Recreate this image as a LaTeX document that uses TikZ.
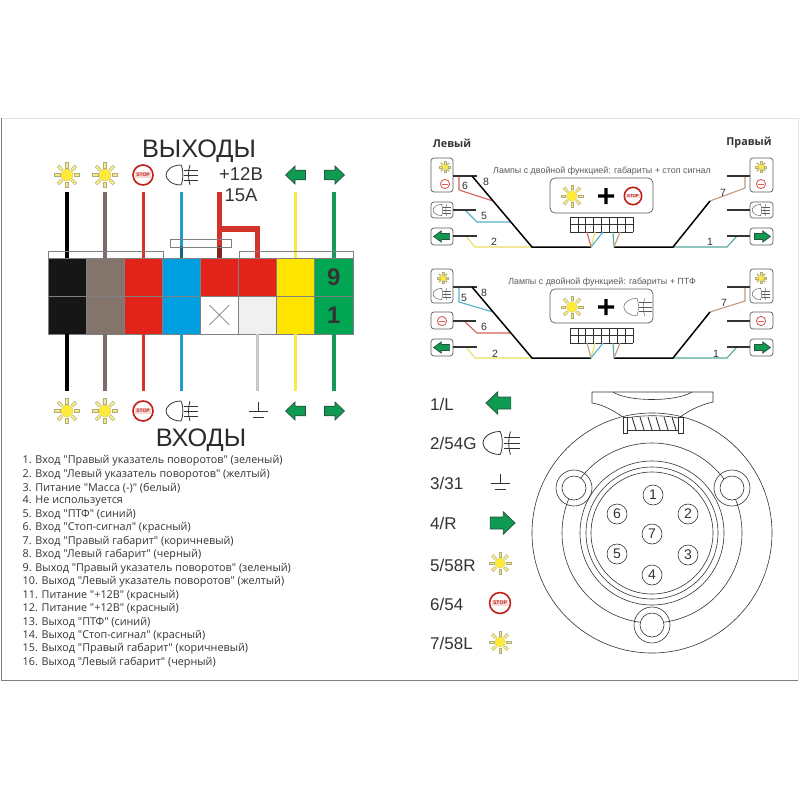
\documentclass[tikz,border=0pt]{standalone}
\usepackage{fontspec}
\setmainfont{Liberation Sans}
\newfontfamily\listfont{Open Sans}
\usetikzlibrary{calc}
\definecolor{cblack}{HTML}{161616}
\definecolor{cbrown}{HTML}{84756C}
\definecolor{cred}{HTML}{E2231A}
\definecolor{cblue}{HTML}{009FDF}
\definecolor{cyel}{HTML}{FFE400}
\definecolor{cgreen}{HTML}{00A651}
\definecolor{clight}{HTML}{F0F0F0}
\definecolor{wbrown}{HTML}{7A6E68}
\definecolor{wred}{HTML}{D2332A}
\definecolor{wblue}{HTML}{1E9CCB}
\definecolor{wyel}{HTML}{F7E94A}
\definecolor{wgreen}{HTML}{159A5A}
\definecolor{wgray}{HTML}{C8C8C8}
\definecolor{ink}{HTML}{333333}
\definecolor{agreen}{HTML}{0E9A50}
\definecolor{sunray}{HTML}{F4EA8C}
\definecolor{sunline}{HTML}{B0AC78}
\definecolor{sunfill}{HTML}{FFE93A}
\definecolor{tealw}{HTML}{55A898}
\definecolor{tanw}{HTML}{C09A80}
\definecolor{redw}{HTML}{D8605A}
\definecolor{bluew}{HTML}{55B0CC}
\definecolor{yelw}{HTML}{E8E060}
\tikzset{
 x=1pt,y=-1pt,
 cell/.style={draw=gray,line width=.7pt,minimum width=38.1pt,minimum height=38pt,inner sep=0pt,outer sep=0pt},
 wire/.style={line width=3.4pt},
 lampbox/.style={draw=ink!80,line width=.7pt,rounded corners=3pt,fill=white},
 lead/.style={draw=ink,line width=1.1pt},
 trunk/.style={draw=black,line width=1.5pt},
 thin wire/.style={line width=1.1pt},
 gridline/.style={draw=ink,line width=.6pt},
 numlab/.style={font=\fontsize{10.5}{12}\selectfont,text=ink,inner sep=0pt},
 pin/.style={circle,draw=ink,line width=.6pt,minimum size=20pt,inner sep=0pt,font=\fontsize{14}{16}\selectfont,text=ink},
 pinlab/.style={anchor=west,font=\fontsize{17}{20}\selectfont,text=ink,inner sep=0pt},
 listitem/.style={anchor=west,font=\listfont\fontsize{10.8}{13}\selectfont,text=ink,inner sep=0pt},
 headline/.style={inner sep=0pt,text=ink!85!black,font=\fontsize{25.3}{28}\selectfont},
 subline/.style={inner sep=0pt,text=ink,font=\fontsize{18.5}{20}\selectfont},
 schemetitle/.style={inner sep=0pt,text=ink!80,font=\fontsize{8.9}{10}\selectfont},
 sidename/.style={inner sep=0pt,text=ink,font=\listfont\bfseries\fontsize{10.8}{12}\selectfont},
 fogline/.style={draw=ink,line width=.8pt},
 finefog/.style={fogline/.style={draw=ink!80,line width=.45pt}},
 pics/sun/.style={code={
   \foreach \a in {0,45,...,315}{
     \draw[draw=sunline,fill=sunray,line width=.3pt,rotate=\a] (8.5,-1.8) rectangle (15,1.8);}
   \fill[sunfill,draw=sunline!60!sunfill,line width=.3pt] (0,0) circle (7.2);
 }},
 pics/stopsign/.style={code={
   \draw[draw=cred!85!black,fill=white,line width=1.6pt] (0,0) circle (8.7);
   \fill[redw!25] (-6.8,-2.4) rectangle (6.8,2.4);
   \node[inner sep=0pt,transform shape,text=cred!85!black,font=\bfseries\fontsize{4.3}{5}\selectfont] at (0,0) {STOP};
 }},
 pics/stopmini/.style={code={
   \draw[draw=redw,fill=white,line width=.9pt] (0,0) circle (4.6);
   \draw[draw=redw,line width=.9pt] (-3,0) -- (3,0);
 }},
 pics/fog/.style={code={
   \draw[fogline] (1,-10) .. controls (-9,-10) and (-14,-4) .. (-14,0) .. controls (-14,4) and (-9,10) .. (1,10) .. controls (3.5,5) and (3.5,-5) .. (1,-10) -- cycle;
   \draw[fogline] (10,-10) .. controls (8,-4) and (8,4) .. (10,10);
   \foreach \v in {-5,0,5}{\draw[fogline] (4,\v) -- (18,\v);}
 }},
 pics/arleft/.style={code={
   \draw[draw=ink!70!agreen,fill=agreen,line width=.7pt,line join=miter] (-10.5,0) -- (-1,-9) -- (-1,-4.8) -- (9.5,-4.8) -- (9.5,4.8) -- (-1,4.8) -- (-1,9) -- cycle;
 }},
 pics/arright/.style={code={
   \draw[draw=ink!70!agreen,fill=agreen,line width=.7pt,line join=miter] (10.5,0) -- (1,-9) -- (1,-4.8) -- (-9.5,-4.8) -- (-9.5,4.8) -- (1,4.8) -- (1,9) -- cycle;
 }},
 pics/groundsym/.style={code={
   \draw[draw=ink,line width=.8pt] (0,-9) -- (0,0) (-9.5,0) -- (9.5,0) (-5.5,6) -- (5.5,6);
 }},
 pics/bigplus/.style={code={
   \fill[black] (-8,-1.6) rectangle (8,1.6) (-1.6,-8) rectangle (1.6,8);
 }},
 pics/pingrid/.style={code={
   \foreach \k in {0,...,8}{\draw[gridline] ({\k*7.875},0) -- ({\k*7.875},15);}
   \foreach \k in {0,1,2}{\draw[gridline] (0,{\k*7.5}) -- (63,{\k*7.5});}
 }},
}
\begin{document}
\begin{tikzpicture}
\useasboundingbox (0,0) rectangle (800,800);
\fill[white] (0,0) rectangle (800,800);
\draw[draw=gray!25,line width=.8pt] (1,118) -- (798,118);
\draw[draw=gray!25,line width=.8pt] (798,118) -- (798,680);
\draw[draw=gray,line width=1pt] (1,118) -- (1,680) -- (798,680);
% --- connector
\foreach \i/\cx/\ct/\cb/\wt/\wb in {
 1/67/cblack/cblack/black/black,
 2/105.1/cbrown/cbrown/wbrown/wbrown,
 3/143.2/cred/cred/wred/wred,
 4/181.3/cblue/cblue/wblue/wblue,
 5/219.4/cred/white/none/none,
 6/257.5/cred/clight/none/wgray,
 7/295.6/cyel/cyel/wyel/wyel,
 8/333.8/cgreen/cgreen/wgreen/wgreen}{
  \node[cell,fill=\ct] (t\i) at (\cx,277) {};
  \node[cell,fill=\cb] (b\i) at (\cx,315) {};
  \draw[wire,draw=\wt] (t\i.north) -- ++(0,-66);
  \draw[wire,draw=\wb] (b\i.south) -- ++(0,57);
}
\draw[draw=wred,line width=5.5pt] (t5.north) -- ++(0,-66);
\draw[draw=wred,line width=5.5pt,line join=miter] (t5.north) ++(0,-29) -- ++(38.1,0) -- (t6.north);
\draw[draw=gray,line width=.8pt] (48,258) -- (48,251) -- (163,251) -- (163,258);
\draw[draw=gray,line width=.8pt] (239,258) -- (239,251) -- (353,251) -- (353,258);
\draw[draw=black,opacity=.35,line width=3.4pt] (t4.north) -- ++(0,-12);
\draw[draw=black,opacity=.35,line width=5.5pt] (t5.north) -- ++(0,-12);
\draw[draw=gray,line width=.8pt] (170,239) rectangle (231,247);
\draw[draw=gray,line width=.6pt] (b5.center) ++(-10,-10) -- ++(20,20) ++(-20,0) -- ++(20,-20);
\node[inner sep=0pt,text=ink,font=\bfseries\fontsize{24}{26}\selectfont] (n9) at (t8) {9};
\node[inner sep=0pt,text=ink,font=\bfseries\fontsize{24}{26}\selectfont] (n1) at (b8) {1};
\node[headline] (outlab) at (199,151) {ВЫХОДЫ};
\node[headline] (inlab) at (201,440) {ВХОДЫ};
\node[subline] (v12) at (241,174) {+12В};
\node[subline] (a15) at (241,195) {15А};
% icons over/under connector
\foreach \yy in {175,411}{
 \pic[scale=.83] at (67,\yy) {sun};
 \pic[scale=.83] at (105,\yy) {sun};
 \pic[scale=1.15] at (143,\yy) {stopsign};
 \pic at (180,\yy) {fog};
 \pic at (296,\yy) {arleft};
 \pic at (334,\yy) {arright};
}
\pic at (258,411) {groundsym};
% --- list
\foreach \n/\t in {
 0/{1. Вход "Правый указатель поворотов" (зеленый)},
 1/{2. Вход "Левый указатель поворотов" (желтый)},
 2/{3. Питание "Масса (-)" (белый)},
 3/{4. Не используется},
 4/{5. Вход "ПТФ" (синий)},
 5/{6. Вход "Стоп-сигнал" (красный)},
 6/{7. Вход "Правый габарит" (коричневый)},
 7/{8. Вход "Левый габарит" (черный)},
 8/{9. Выход "Правый указатель поворотов" (зеленый)},
 9/{10. Выход "Левый указатель поворотов" (желтый)},
 10/{11. Питание "+12В" (красный)},
 11/{12. Питание "+12В" (красный)},
 12/{13. Выход "ПТФ" (синий)},
 13/{14. Выход "Стоп-сигнал" (красный)},
 14/{15. Выход "Правый габарит" (коричневый)},
 15/{16. Выход "Левый габарит" (черный)}}{
 \node[listitem] (li\n) at (22.5,{461+\n*13.43}) {\t};
}
% --- top schematic
\node[sidename] (lv) at (452,143) {Левый};
\node[sidename] (pr) at (749,143) {Правый};
\node[schemetitle] (t1) at (602,171) {Лампы с двойной функцией: габариты + стоп сигнал};
\draw[lampbox] (431,158) rectangle (453,192);
\draw[lampbox] (431,202) rectangle (453,218);
\draw[lampbox] (431,228) rectangle (453,245);
\draw[lampbox] (750,158) rectangle (773,192);
\draw[lampbox] (750,202) rectangle (773,218);
\draw[lampbox] (750,228) rectangle (773,245);
\pic[scale=.37] at (445,167) {sun};
\pic at (445,184) {stopmini};
\pic[scale=.56,finefog] at (441,210) {fog};
\pic[xscale=.8,yscale=.62] at (442,236.5) {arleft};
\pic[scale=.37] at (761,167) {sun};
\pic at (761,184) {stopmini};
\pic[scale=.56,finefog] at (760,210) {fog};
\pic[xscale=.8,yscale=.62] at (762,236.5) {arright};
\draw[lampbox,rounded corners=5pt] (550,178) rectangle (653,213);
\pic[scale=.75] at (572,196) {sun};
\pic at (606,196) {bigplus};
\pic at (633,196) {stopsign};
\pic at (570,217) {pingrid};
% wires top
\draw[thin wire,draw=redw] (459,176) -- (459,190) -- (493,201);
\draw[thin wire,draw=bluew] (465,210) -- (477,222) -- (510,222);
\draw[thin wire,draw=yelw] (466,236) -- (475,247) -- (532,247);
\draw[thin wire,draw=tealw] (737,236) -- (727,247) -- (673,247);
\draw[thin wire,draw=tanw] (745,176) -- (745,188) -- (710,201);
\draw[lead] (453,176) -- (477,176);
\draw[lead] (453,210) -- (476,210);
\draw[lead] (453,236) -- (477,236);
\draw[lead] (750,176) -- (727,176);
\draw[lead] (750,210) -- (727,210);
\draw[lead] (750,236) -- (727,236);
\draw[trunk] (472,176) -- (532,247) -- (591,247);
\draw[trunk] (614,247) -- (673,247) -- (710,201);
\draw[thin wire,draw=redw] (587,232) -- (591,247);
\draw[thin wire,draw=yelw] (595,232) -- (591,247);
\draw[thin wire,draw=bluew] (603,232) -- (591,247);
\draw[thin wire,draw=tealw] (613,232) -- (614,247);
\draw[thin wire,draw=tanw] (620,232) -- (614,247);
\node[numlab] (l8a) at (486,182) {8};
\node[numlab] (l6a) at (465,186) {6};
\node[numlab] (l5a) at (484,216) {5};
\node[numlab] (l2a) at (494,242) {2};
\node[numlab] (l7a) at (723,193) {7};
\node[numlab] (l1a) at (710,242) {1};
% --- second schematic
\node[schemetitle] (t2) at (602,282) {Лампы с двойной функцией: габариты + ПТФ};
\draw[lampbox] (431,269) rectangle (453,303);
\draw[lampbox] (431,312) rectangle (453,329);
\draw[lampbox] (431,339) rectangle (453,356);
\draw[lampbox] (750,269) rectangle (773,303);
\draw[lampbox] (750,312) rectangle (773,329);
\draw[lampbox] (750,339) rectangle (773,356);
\pic[scale=.37] at (443,278) {sun};
\pic[scale=.56,finefog] at (441,294) {fog};
\pic at (442,321) {stopmini};
\pic[xscale=.8,yscale=.62] at (442,347.5) {arleft};
\pic[scale=.37] at (761,278) {sun};
\pic[scale=.56,finefog] at (760,294) {fog};
\pic at (761,321) {stopmini};
\pic[xscale=.8,yscale=.62] at (762,347.5) {arright};
\draw[lampbox,rounded corners=5pt] (550,289) rectangle (653,323);
\pic[scale=.75] at (572,307) {sun};
\pic at (606,307) {bigplus};
\pic[scale=.87,finefog] at (636,307) {fog};
\pic at (570,328) {pingrid};
\draw[thin wire,draw=bluew] (459,287) -- (459,302) -- (493,312);
\draw[thin wire,draw=redw] (465,322) -- (477,333) -- (510,333);
\draw[thin wire,draw=yelw] (466,347) -- (475,358) -- (532,358);
\draw[thin wire,draw=tealw] (737,347) -- (727,358) -- (673,358);
\draw[thin wire,draw=tanw] (745,287) -- (745,301) -- (710,312);
\draw[lead] (453,287) -- (477,287);
\draw[lead] (453,321) -- (476,321);
\draw[lead] (453,347) -- (477,347);
\draw[lead] (750,287) -- (727,287);
\draw[lead] (750,321) -- (727,321);
\draw[lead] (750,347) -- (727,347);
\draw[trunk] (472,287) -- (532,358) -- (591,358);
\draw[trunk] (614,358) -- (673,358) -- (710,312);
\draw[thin wire,draw=tanw] (587,343) -- (591,358);
\draw[thin wire,draw=yelw] (595,343) -- (591,358);
\draw[thin wire,draw=bluew] (603,343) -- (591,358);
\draw[thin wire,draw=tealw] (613,343) -- (614,358);
\draw[thin wire,draw=tanw] (620,343) -- (614,358);
\node[numlab] (l8b) at (484,293) {8};
\node[numlab] (l5b) at (464,298) {5};
\node[numlab] (l6b) at (484,327) {6};
\node[numlab] (l2b) at (495,354) {2};
\node[numlab] (l7b) at (724,303) {7};
\node[numlab] (l1b) at (716,354) {1};
% --- pin legend
\node[pinlab] (p1) at (430,404) {1/L};
\node[pinlab] (p2) at (430,443) {2/54G};
\node[pinlab] (p3) at (430,483) {3/31};
\node[pinlab] (p4) at (430,523) {4/R};
\node[pinlab] (p5) at (430,565) {5/58R};
\node[pinlab] (p6) at (430,604) {6/54};
\node[pinlab] (p7) at (430,643) {7/58L};
\pic[scale=1.25] at (499,403) {arleft};
\pic[scale=1.15] at (499,443) {fog};
\pic at (500,483) {groundsym};
\pic[scale=1.25] at (502,523) {arright};
\pic[scale=.73] at (500,563) {sun};
\pic[scale=1.2] at (500,603) {stopsign};
\pic[scale=.73] at (500,642) {sun};
% --- socket
\begin{scope}[draw=ink,line width=.6pt]
\draw (623,417) .. controls (612,410) and (604,405) .. (592,403) -- (592,392) -- (713,392) -- (713,402) .. controls (700,405) and (690,410) .. (680,417);
\draw (613,392) .. controls (628,402) and (676,402) .. (692,392);
\draw (652,533) circle (120);
\draw (652,533) circle (90);
\draw (652,533) circle (72);
\draw (652,533) circle (66);
\draw (652,533) circle (61);
\draw[fill=white] (623,417) rectangle (627.5,433);
\draw[fill=white] (678,417) rectangle (683,433);
\draw (627.5,430) -- (678,430);
\draw (627.5,418) .. controls (640,415) and (665,415) .. (678,418);
\foreach \hx in {632,640,...,672}{\draw[draw=ink,line width=.9pt] (\hx,417) -- (\hx+4,430);}
\foreach \bx/\by in {574/488,732/488,652/625}{
  \draw (\bx,\by) circle (18);
  \draw[fill=white] (\bx,\by) circle (12);
}
\end{scope}
\foreach \n/\px/\py in {1/653/495,2/688/514,3/688/555,4/652/575,5/617/554,6/617/514,7/652/534}{
  \node[pin] (pin\n) at (\px,\py) {\n};
}
\end{tikzpicture}
\end{document}
